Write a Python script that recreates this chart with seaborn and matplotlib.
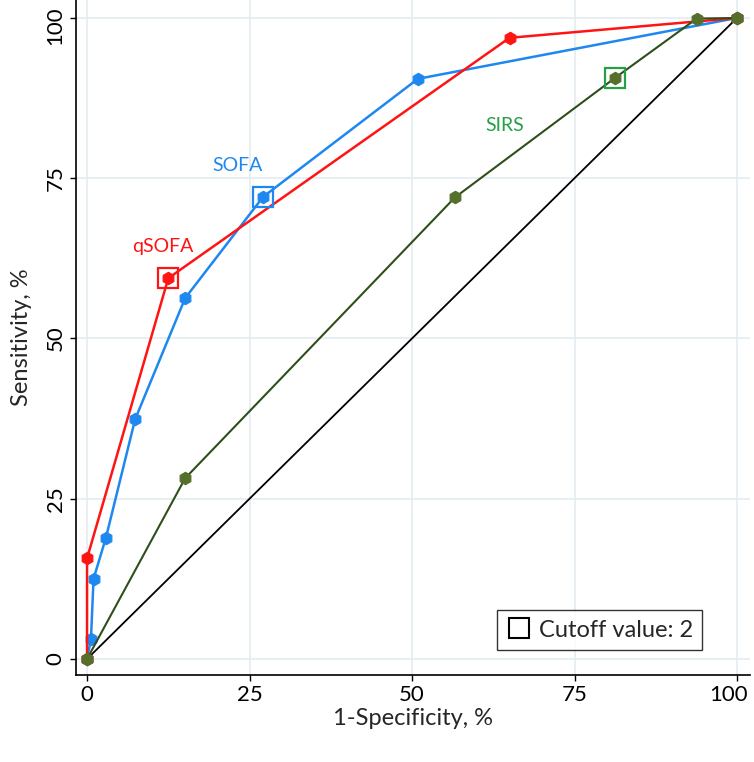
import matplotlib
matplotlib.use("Agg")
import matplotlib.pyplot as plt
import matplotlib.transforms as mtransforms
import seaborn as sns

# Data (1-Specificity %, Sensitivity %)
qsofa_x = [0, 0, 12.5, 65, 100]
qsofa_y = [0, 15.7, 59.4, 96.9, 100]
sofa_x = [0, 0.6, 1.0, 2.9, 7.4, 15.1, 27.1, 50.9, 100]
sofa_y = [0, 3.1, 12.5, 18.9, 37.4, 56.3, 72.1, 90.5, 100]
sirs_x = [0, 15.1, 56.6, 81.3, 93.8, 100]
sirs_y = [0, 28.2, 72.0, 90.7, 99.9, 100]
ref_x = [0, 100]
ref_y = [0, 100]
cutoff_names = ["qSOFA", "SOFA", "SIRS"]
cutoff_x = [12.5, 27.1, 81.3]
cutoff_y = [59.4, 72.1, 90.7]
ticks = [0, 25, 50, 75, 100]

sns.set_style("white")
plt.rcParams["font.family"] = ["Lato", "DejaVu Sans"]

fig = plt.figure(figsize=(7.54, 7.62), dpi=100)
ax = fig.add_axes([76/754, 1-675/762, (750-76)/754, 675/762])

red = "#ff1414"
blue = "#1e88f0"
olive = "#55702a"
oline = "#2f4f1a"
green_txt = "#26a046"

ax.set_xlim(-1.7, 102)
ax.set_ylim(-2.5, 102.8)
for t in ticks:
    ax.axvline(t, color="#e3ecf0", lw=1.2, zorder=0)
    ax.axhline(t, color="#e3ecf0", lw=1.2, zorder=0)

sns.lineplot(x=ref_x, y=ref_y, ax=ax, color="black", lw=1.3, sort=False,
             estimator=None, zorder=2)
sns.lineplot(x=sofa_x, y=sofa_y, ax=ax, color=blue, lw=1.8, sort=False, estimator=None,
             marker="h", markersize=9, markerfacecolor=blue, markeredgecolor=blue, zorder=4)
sns.lineplot(x=qsofa_x, y=qsofa_y, ax=ax, color=red, lw=1.8, sort=False, estimator=None,
             marker="h", markersize=9, markerfacecolor=red, markeredgecolor=red, zorder=5)
sns.lineplot(x=sirs_x, y=sirs_y, ax=ax, color=oline, lw=1.5, sort=False, estimator=None,
             marker="h", markersize=9, markerfacecolor=olive, markeredgecolor=olive, zorder=6)

box_colors = [red, blue, green_txt]
for cx, cy, c in zip(cutoff_x, cutoff_y, box_colors):
    ax.plot([cx], [cy], marker="s", markersize=15, markerfacecolor="none",
            markeredgecolor=c, markeredgewidth=1.6, ls="none", zorder=7)

ax.text(11.7, 64.4, "qSOFA", color=red, fontsize=14, ha="center", va="center")
ax.text(23.2, 77.0, "SOFA", color=blue, fontsize=14, ha="center", va="center")
ax.text(64.2, 83.2, "SIRS", color=green_txt, fontsize=14, ha="center", va="center")

# legend
h = ax.plot([], [], marker="s", markersize=15, markerfacecolor="none",
            markeredgecolor="black", markeredgewidth=1.5, ls="none")[0]
leg = ax.legend([h], ["Cutoff value: 2"], loc="lower right", bbox_to_anchor=(0.929, 0.037),
                fontsize=17, frameon=True, fancybox=False, edgecolor="black",
                handletextpad=0.35, borderpad=0.4, handlelength=1.0, borderaxespad=0)
leg.get_frame().set_linewidth(1.0)

ax.set_xticks(ticks)
ax.set_yticks(ticks)
ax.tick_params(axis="both", labelsize=16, length=4, width=1, direction="out", colors="black")
for lab in ax.get_yticklabels():
    lab.set_rotation(90)
    lab.set_va("center")
ax.tick_params(axis="both", bottom=True, left=True)
ax.set_xlabel("1-Specificity, %", fontsize=17, labelpad=2)
ax.set_ylabel("Sensitivity, %", fontsize=17, labelpad=10)
for s in ["top", "right"]:
    ax.spines[s].set_visible(False)
for s in ["left", "bottom"]:
    ax.spines[s].set_color("black")
    ax.spines[s].set_linewidth(1.2)

# nudge the "100" labels inward as in the reference
xl = ax.get_xticklabels()[-1]
xl.set_transform(xl.get_transform() + mtransforms.ScaledTranslation(-8/100, 0, fig.dpi_scale_trans))
yl = ax.get_yticklabels()[-1]
yl.set_transform(yl.get_transform() + mtransforms.ScaledTranslation(0, -8/100, fig.dpi_scale_trans))

fig.savefig("out.png", dpi=100)
